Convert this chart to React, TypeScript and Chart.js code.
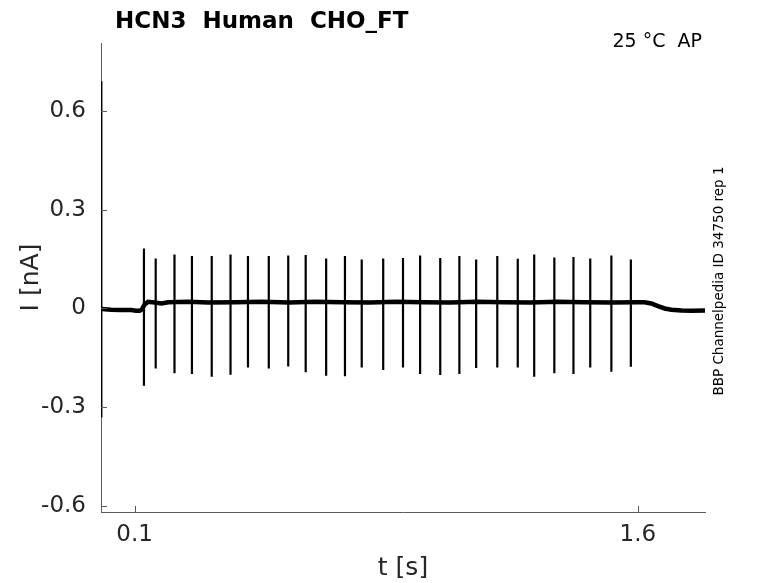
import React, { useEffect, useRef } from 'react'
import { Chart, registerables, type ChartConfiguration, type Plugin } from 'chart.js'

Chart.register(...registerables)

// holding current trace (baseline)
const baseT = [0.002, 0.03, 0.06, 0.09, 0.105, 0.115, 0.122, 0.13, 0.14, 0.16, 0.18, 0.2, 0.26, 0.32, 0.4, 0.48, 0.56, 0.64, 0.72, 0.8, 0.88, 0.96, 1.04, 1.12, 1.2, 1.28, 1.36, 1.44, 1.52, 1.6, 1.62, 1.64, 1.66, 1.68, 1.7, 1.73, 1.76, 1.8]
const baseI = [-0.002, -0.004, -0.005, -0.005, -0.007, -0.007, -0.003, 0.012, 0.02, 0.018, 0.015, 0.019, 0.02, 0.018, 0.019, 0.02, 0.018, 0.02, 0.019, 0.018, 0.02, 0.019, 0.018, 0.02, 0.019, 0.018, 0.02, 0.019, 0.018, 0.019, 0.019, 0.015, 0.007, 0.0, -0.004, -0.006, -0.007, -0.006]

// capacitive transients (first one is the onset artefact)
const spikeT      = [0.001, 0.128, 0.163, 0.219, 0.271, 0.330, 0.386, 0.438, 0.500, 0.558, 0.610, 0.671, 0.727, 0.777, 0.841, 0.900, 0.951, 1.011, 1.068, 1.118, 1.181, 1.242, 1.291, 1.351, 1.408, 1.458, 1.521, 1.579]
const spikePeak   = [0.69, 0.182, 0.152, 0.164, 0.159, 0.159, 0.164, 0.159, 0.159, 0.161, 0.162, 0.152, 0.159, 0.149, 0.152, 0.153, 0.161, 0.153, 0.159, 0.149, 0.159, 0.151, 0.164, 0.155, 0.156, 0.152, 0.161, 0.149]
const spikeTrough = [-0.33, -0.235, -0.182, -0.197, -0.199, -0.207, -0.201, -0.179, -0.182, -0.176, -0.194, -0.204, -0.206, -0.179, -0.187, -0.179, -0.199, -0.202, -0.199, -0.181, -0.179, -0.179, -0.207, -0.197, -0.199, -0.179, -0.192, -0.177]

const xTicks = [0.1, 1.6]
const xTickLabels = ['0.1', '1.6']
const yTicks = [-0.6, -0.3, 0, 0.3, 0.6]
const yTickLabels = ['-0.6', '-0.3', '0', '0.3', '0.6']

const FONT = 'DejaVu Sans'
const TEXT = '#262626'
const AXIS = '#5a5a5a'

const overlay: Plugin = {
  id: 'overlay',
  afterDraw(chart) {
    const { ctx, chartArea: a, scales } = chart
    ctx.save()
    // inward tick marks
    ctx.strokeStyle = AXIS
    ctx.lineWidth = 1
    yTicks.forEach(v => {
      const y = Math.round(scales.y.getPixelForValue(v)) + 0.5
      ctx.beginPath(); ctx.moveTo(a.left, y); ctx.lineTo(a.left + 6, y); ctx.stroke()
    })
    xTicks.forEach(v => {
      const x = Math.round(scales.x.getPixelForValue(v)) + 0.5
      ctx.beginPath(); ctx.moveTo(x, a.bottom); ctx.lineTo(x, a.bottom - 6); ctx.stroke()
    })

    ctx.fillStyle = '#000'
    ctx.textBaseline = 'alphabetic'
    ctx.font = `bold 23px "${FONT}"`
    ctx.textAlign = 'left'
    ctx.fillText('HCN3  Human  CHO_FT', 115, 28)

    ctx.font = `19px "${FONT}"`
    ctx.textAlign = 'right'
    ctx.fillText('25 °C  AP', 702, 47)

    ctx.fillStyle = TEXT
    ctx.font = `25px "${FONT}"`
    ctx.textAlign = 'center'
    ctx.fillText('t [s]', (a.left + a.right) / 2, 575)

    ctx.save()
    ctx.translate(38, (a.top + a.bottom) / 2)
    ctx.rotate(-Math.PI / 2)
    ctx.fillText('I [nA]', 0, 0)
    ctx.restore()

    ctx.fillStyle = '#000'
    ctx.save()
    ctx.translate(723, 281)
    ctx.rotate(-Math.PI / 2)
    ctx.font = `13.5px "${FONT}"`
    ctx.fillText('BBP Channelpedia ID 34750 rep 1', 0, 0)
    ctx.restore()

    ctx.restore()
  },
}

export default function App() {
  const canvasRef = useRef<HTMLCanvasElement>(null)
  const chartRef = useRef<Chart | null>(null)

  useEffect(() => {
    if (!canvasRef.current) return
    chartRef.current?.destroy()

    const baseline = baseT.map((t, i) => ({ x: t, y: baseI[i] }))
    const spikes: { x: number; y: number | null }[] = []
    spikeT.forEach((t, i) => {
      spikes.push({ x: t, y: spikePeak[i] }, { x: t, y: spikeTrough[i] }, { x: t, y: null })
    })

    const cfg: ChartConfiguration<'line'> = {
      type: 'line',
      data: {
        datasets: [
          { data: baseline as any, borderColor: '#000', borderWidth: 4.5, pointRadius: 0, tension: 0 },
          { data: spikes as any, borderColor: '#000', borderWidth: 2.2, pointRadius: 0, tension: 0, spanGaps: false },
        ],
      },
      options: {
        responsive: false,
        animation: false,
        events: [],
        layout: { padding: { top: 43, right: 73, left: 0, bottom: 0 } },
        plugins: { legend: { display: false }, tooltip: { enabled: false } },
        scales: {
          x: {
            type: 'linear',
            min: 0,
            max: 1.8,
            afterBuildTicks: s => { s.ticks = xTicks.map(v => ({ value: v })) },
            afterFit: s => { s.height = 71 },
            ticks: {
              color: TEXT,
              font: { family: FONT, size: 23 },
              padding: 9,
              maxRotation: 0,
              callback: v => xTickLabels[xTicks.indexOf(Number(v))] ?? '',
            },
            grid: { display: false, drawTicks: false },
            border: { display: true, color: AXIS, width: 1 },
          },
          y: {
            type: 'linear',
            min: -0.618,
            max: 0.806,
            afterBuildTicks: s => { s.ticks = yTicks.map(v => ({ value: v })) },
            afterFit: s => { s.width = 101 },
            ticks: {
              color: TEXT,
              font: { family: FONT, size: 23 },
              padding: 15,
              callback: v => yTickLabels[yTicks.indexOf(Number(v))] ?? '',
            },
            grid: { display: false, drawTicks: false },
            border: { display: true, color: AXIS, width: 1 },
          },
        },
      },
      plugins: [overlay],
    }
    chartRef.current = new Chart(canvasRef.current, cfg)
    return () => { chartRef.current?.destroy() }
  }, [])

  return (
    <div style={{ position: 'fixed', left: 0, top: 0, width: 778, height: 583, background: '#fff' }}>
      <canvas ref={canvasRef} width={778} height={583} style={{ width: 778, height: 583 }} />
    </div>
  )
}
